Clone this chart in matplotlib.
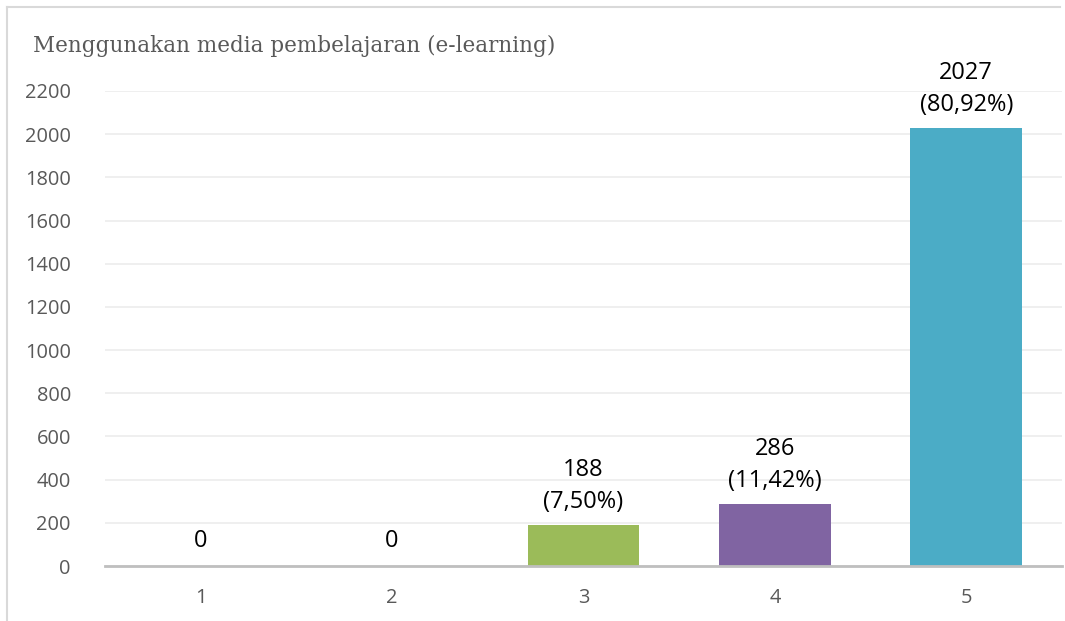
import matplotlib
matplotlib.use("Agg")
import matplotlib.pyplot as plt
from matplotlib.lines import Line2D

categories = ["1", "2", "3", "4", "5"]
values = [0, 0, 188, 286, 2027]
percent_labels = ["", "", "(7,50%)", "(11,42%)", "(80,92%)"]
colors = ["#4F81BD", "#C0504D", "#9BBB59", "#8064A2", "#4BACC6"]
yticks = [0, 200, 400, 600, 800, 1000, 1200, 1400, 1600, 1800, 2000, 2200]
title = "Menggunakan media pembelajaran (e-learning)"

W, H = 1065, 621
fig = plt.figure(figsize=(W / 100, H / 100), dpi=100)
fig.patch.set_facecolor("white")

# outer border (top and left visible)
fig.add_artist(Line2D([7 / W, 7 / W], [0, 1 - 7 / H], transform=fig.transFigure,
                      color="#d9d9d9", lw=1.5))
fig.add_artist(Line2D([7 / W, 1060 / W], [1 - 7 / H, 1 - 7 / H], transform=fig.transFigure,
                      color="#d9d9d9", lw=1.5))

left, right = 105 / W, 1062 / W
bottom, top = 1 - 566 / H, 1 - 91 / H
ax = fig.add_axes([left, bottom, right - left, top - bottom])

x = list(range(len(categories)))
ax.bar(x, values, width=0.585, color=colors, zorder=3)
ax.set_xlim(-0.5, len(categories) - 0.5)
ax.set_ylim(0, 2200)
ax.set_yticks(yticks)
ax.set_xticks(x)
ax.set_xticklabels(categories)

for s in ["top", "right", "left"]:
    ax.spines[s].set_visible(False)
ax.spines["bottom"].set_color("#bfbfbf")
ax.spines["bottom"].set_linewidth(2)
ax.spines["bottom"].set_zorder(4)
ax.grid(axis="y", color="#ececec", lw=1.2, zorder=0)
ax.tick_params(axis="both", length=0, colors="#595959", labelsize=14.4)
ax.tick_params(axis="y", pad=24.5)
ax.tick_params(axis="x", pad=16)
for lab in ax.get_xticklabels() + ax.get_yticklabels():
    lab.set_fontfamily("Open Sans")

for xi, v, p in zip(x, values, percent_labels):
    txt = f"{v}" if not p else f"{v}\n{p}"
    ax.annotate(txt, (xi, v), xytext=(0, 13 if not p else 11), textcoords="offset pixels",
                ha="center", va="bottom", fontsize=17, color="black",
                family="Open Sans", linespacing=1.45, annotation_clip=False)

fig.text(33 / W, 1 - 46 / H, title, fontsize=15.5, color="#595959", family="DejaVu Serif",
         va="center", ha="left")

fig.savefig("out.png", dpi=100)
